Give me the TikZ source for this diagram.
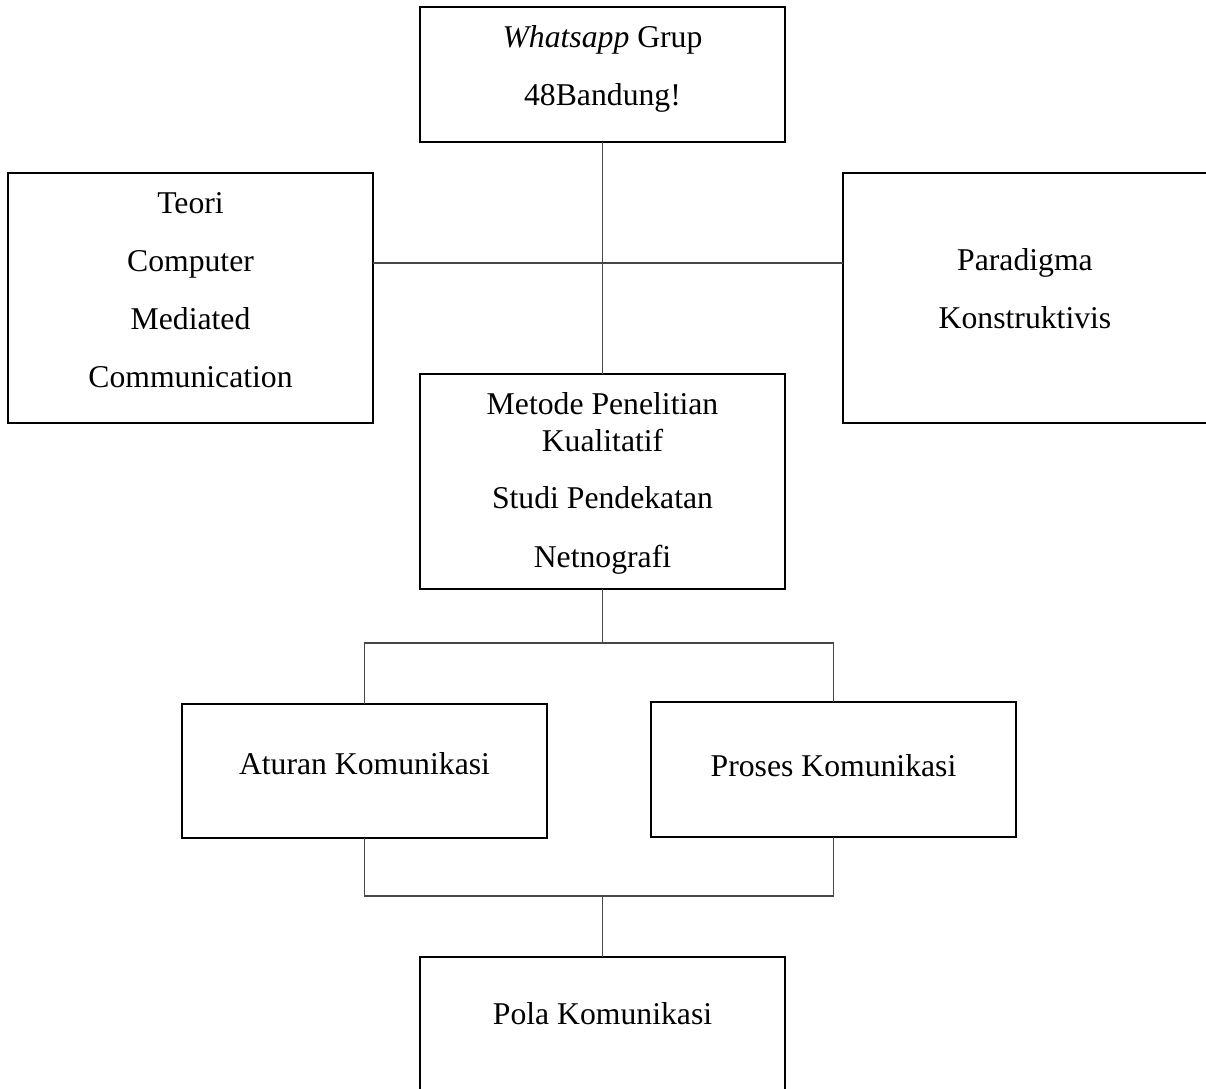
\documentclass[tikz,border=0pt]{standalone}
\usepackage{fontspec}
\setmainfont{Liberation Serif}
\begin{document}
\begin{tikzpicture}[x=1pt,y=-1pt,
  box/.style={draw=black,line width=1.6pt,rectangle,minimum width=365pt,inner sep=0pt,outer sep=0pt},
  txt/.style={anchor=base,inner sep=0pt,font=\fontsize{31.7}{36}\selectfont},
  conn/.style={draw=black!72,line width=1.1pt}]
\useasboundingbox (0,0) rectangle (1206,1088);
\clip (0,0) rectangle (1206,1088);
\fill[white] (0,0) rectangle (1206,1088);
% boxes
\node[box,minimum height=135pt] (top) at (602.5,74.5) {};
\node[box,minimum height=250pt] (left) at (190.5,298) {};
\node[box,minimum height=250pt] (right) at (1025.5,298) {};
\node[box,minimum height=215pt] (mid) at (602.5,481.5) {};
\node[box,minimum height=134pt] (aturan) at (364.5,771) {};
\node[box,minimum height=135pt] (proses) at (833.5,769.5) {};
\node[box,minimum height=135pt] (pola) at (602.5,1024.5) {};
% texts
\node[txt] (t1) at (602.5,47) {\textit{Whatsapp} Grup};
\node[txt] (t2) at (602.5,105) {48Bandung!};
\node[txt] (l1) at (190.5,213) {Teori};
\node[txt] (l2) at (190.5,271) {Computer};
\node[txt] (l3) at (190.5,329) {Mediated};
\node[txt] (l4) at (190.5,387) {Communication};
\node[txt] (r1) at (1025,270) {Paradigma};
\node[txt] (r2) at (1025,328) {Konstruktivis};
\node[txt] (m1) at (602.5,414) {Metode Penelitian};
\node[txt] (m2) at (602.5,451) {Kualitatif};
\node[txt] (m3) at (602.5,508) {Studi Pendekatan};
\node[txt] (m4) at (602.5,567) {Netnografi};
\node[txt] (a1) at (364.5,774) {Aturan Komunikasi};
\node[txt] (p1) at (833.5,776) {Proses Komunikasi};
\node[txt] (o1) at (602.5,1024) {Pola Komunikasi};
% connectors
\coordinate (hl) at (0,263);
\coordinate (s1) at (0,643);
\coordinate (s2) at (0,896);
\draw[conn] (top.south) -- (mid.north);
\draw[conn] (left.east |- hl) -- (right.west |- hl);
\draw[conn] (mid.south) -- (mid.south |- s1);
\draw[conn] (aturan.north) -- (aturan.north |- s1) -- (proses.north |- s1) -- (proses.north);
\draw[conn] (aturan.south) -- (aturan.south |- s2) -- (proses.south |- s2) -- (proses.south);
\draw[conn] (pola.north) -- (pola.north |- s2);
\end{tikzpicture}
\end{document}
